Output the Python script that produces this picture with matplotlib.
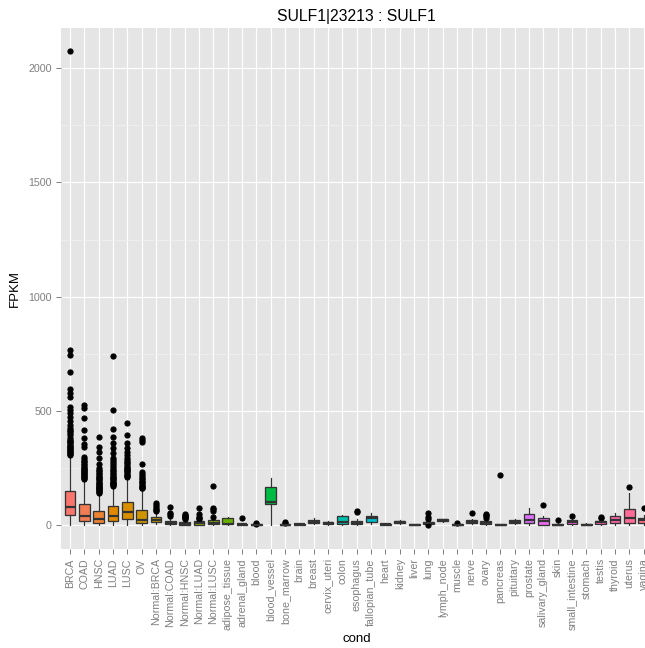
import numpy as np
import matplotlib
matplotlib.use("Agg")
import matplotlib.pyplot as plt

# data (FPKM values)
cats = ["BRCA", "COAD", "HNSC", "LUAD", "LUSC", "OV",
        "Normal:BRCA", "Normal:COAD", "Normal:HNSC", "Normal:LUAD", "Normal:LUSC",
        "adipose_tissue", "adrenal_gland", "blood", "blood_vessel", "bone_marrow",
        "brain", "breast", "cervix_uteri", "colon", "esophagus", "fallopian_tube",
        "heart", "kidney", "liver", "lung", "lymph_node", "muscle", "nerve", "ovary",
        "pancreas", "pituitary", "prostate", "salivary_gland", "skin",
        "small_intestine", "stomach", "testis", "thyroid", "uterus", "vagina"]

whislo = [0, 0, 0, 0, 0, 0, 5, 0, 0, 0, 0, 0, 0, 0, 0, 0, 0, 3, 1, 0, 2, 5,
          0, 4, 0, 3, 13, 0, 4, 0, 0, 3, 0, 0, 0, 2, 0, 2, 0, 0, 2]
q1 = [44, 17, 8, 18, 25, 7, 15, 3, 1, 2, 3, 3, 1, 0, 92, 0, 1, 8, 3, 4, 4, 12,
      1, 8, 0, 5, 16, 0, 10, 3, 0, 8, 7, 2, 0, 6, 0, 6, 7, 10, 8]
med = [80, 40, 25, 40, 55, 22, 24, 9, 4, 7, 10, 6, 3, 1, 102, 2, 3, 14, 7, 14,
       10, 30, 3, 12, 1, 9, 21, 2, 15, 9, 1, 14, 22, 17, 2, 12, 2, 12, 22, 30, 20]
q3 = [149, 92, 62, 85, 102, 66, 34, 19, 12, 17, 21, 31, 6, 3, 168, 5, 6, 20,
      11, 39, 18, 39, 6, 17, 3, 13, 25, 5, 21, 17, 3, 20, 47, 32, 5, 20, 5, 18,
      41, 70, 32]
whishi = [305, 198, 136, 165, 208, 155, 55, 35, 25, 22, 33, 33, 9, 5, 207, 8,
          8, 29, 16, 42, 26, 54, 8, 23, 4, 20, 28, 7, 27, 28, 5, 27, 75, 40, 8,
          28, 7, 27, 54, 140, 45]

outliers = [
    [308, 312, 316, 320, 324, 328, 333, 338, 342, 347, 352, 357, 362, 367, 372,
     380, 392, 403, 410, 416, 425, 440, 455, 474, 490, 504, 518, 561, 579, 596,
     671, 746, 767, 2075],
    [202, 206, 210, 214, 218, 222, 226, 230, 235, 240, 245, 250, 256, 262, 268,
     275, 282, 290, 300, 342, 355, 382, 417, 469, 513, 526],
    [140, 144, 148, 152, 156, 160, 164, 168, 172, 176, 180, 185, 190, 195, 200,
     205, 210, 216, 222, 228, 235, 242, 248, 267, 292, 321, 343, 387],
    [170, 174, 178, 182, 186, 190, 195, 200, 205, 210, 216, 222, 228, 235, 242,
     250, 258, 266, 275, 284, 292, 314, 336, 358, 387, 421, 504, 738],
    [212, 216, 220, 225, 230, 235, 240, 245, 250, 256, 262, 270, 278, 286, 295,
     307, 321, 336, 358, 395, 446],
    [160, 164, 168, 172, 177, 182, 188, 194, 200, 207, 214, 222, 234, 268, 365,
     372, 380],
    [60, 65, 72, 80, 88, 98],
    [41, 48, 52, 80],
    [27, 30, 33, 36, 40, 45, 50],
    [25, 32, 37, 47, 76],
    [36, 63, 70, 75, 173],
    [],
    [30],
    [6, 8],
    [],
    [9, 11],
    [],
    [],
    [],
    [],
    [57, 62],
    [],
    [],
    [],
    [],
    [0, 26, 33, 51],
    [],
    [9],
    [51],
    [32, 38, 44, 50],
    [219],
    [],
    [],
    [88],
    [20],
    [39],
    [],
    [29, 33],
    [],
    [168],
    [73],
]


def hcl(h, c=100.0, l=65.0):
    # ggplot2 hue palette colour (polar CIE-LUV -> sRGB)
    hr = np.radians(h)
    u, v = c * np.cos(hr), c * np.sin(hr)
    xn, yn, zn = 95.047, 100.0, 108.883
    un = 4 * xn / (xn + 15 * yn + 3 * zn)
    vn = 9 * yn / (xn + 15 * yn + 3 * zn)
    Y = yn * ((l + 16) / 116) ** 3
    up = u / (13 * l) + un
    vp = v / (13 * l) + vn
    X = 9 * Y * up / (4 * vp)
    Z = -X / 3 - 5 * Y + 3 * Y / vp
    X, Y, Z = X / 100, Y / 100, Z / 100
    rgb = np.array([3.240479 * X - 1.537150 * Y - 0.498535 * Z,
                    -0.969256 * X + 1.875992 * Y + 0.041556 * Z,
                    0.055648 * X - 0.204043 * Y + 1.057311 * Z])
    rgb = np.where(rgb <= 0.0031308, 12.92 * rgb,
                   1.055 * np.abs(rgb) ** (1 / 2.4) - 0.055)
    return tuple(np.clip(rgb, 0, 1))


n = len(cats)
colors = [hcl(15 + 360 * i / n) for i in range(n)]

stats = []
for i in range(n):
    stats.append(dict(label=cats[i], whislo=whislo[i], q1=q1[i], med=med[i],
                      q3=q3[i], whishi=whishi[i], fliers=outliers[i]))

plt.rcParams['font.family'] = ['Liberation Sans', 'DejaVu Sans']

W, H = 645, 648
fig = plt.figure(figsize=(W / 72, H / 72), dpi=72)
# panel runs past the right edge of the picture, as in the reference
left, right, top, bottom = 61.4, 652.2, 27.5, 548.7
ax = fig.add_axes([left / W, (H - bottom) / H, (right - left) / W, (bottom - top) / H])
ax.set_facecolor('#E5E5E5')

pos = np.arange(1, n + 1)
bp = ax.bxp(stats, positions=pos, widths=0.75, patch_artist=True,
            showcaps=False,
            boxprops=dict(edgecolor='#333333', linewidth=1.3),
            medianprops=dict(color='#333333', linewidth=2.2),
            whiskerprops=dict(color='#333333', linewidth=1.2),
            flierprops=dict(marker='o', markerfacecolor='black',
                            markeredgecolor='black', markersize=5.2,
                            linestyle='none'))
for patch, col in zip(bp['boxes'], colors):
    patch.set_facecolor(col)

ax.set_xlim(0.4, n + 0.6)
ax.set_ylim(-103.75, 2178.75)
ax.set_xticks(pos)
ax.set_xticklabels(cats, rotation=90)
ax.set_yticks([0, 500, 1000, 1500, 2000])
ax.set_yticks([250, 750, 1250, 1750], minor=True)

for s in ax.spines.values():
    s.set_visible(False)
ax.set_axisbelow(True)
ax.grid(which='major', color='white', linewidth=1.2)
ax.grid(which='minor', axis='y', color='#F2F2F2', linewidth=0.7)
ax.tick_params(which='major', length=5, width=1, color='#7F7F7F',
               labelcolor='#7F7F7F', labelsize=10.6)
ax.tick_params(axis='x', pad=4.5)
ax.tick_params(axis='y', pad=4.5)
ax.tick_params(which='minor', length=0)

ax.set_title('SULF1|23213 : SULF1', fontsize=15.8, pad=6)
ax.set_xlabel('cond', fontsize=13.2, labelpad=3)
ax.set_ylabel('FPKM', fontsize=13.2, labelpad=8)

fig.savefig('out.png', dpi=72)
